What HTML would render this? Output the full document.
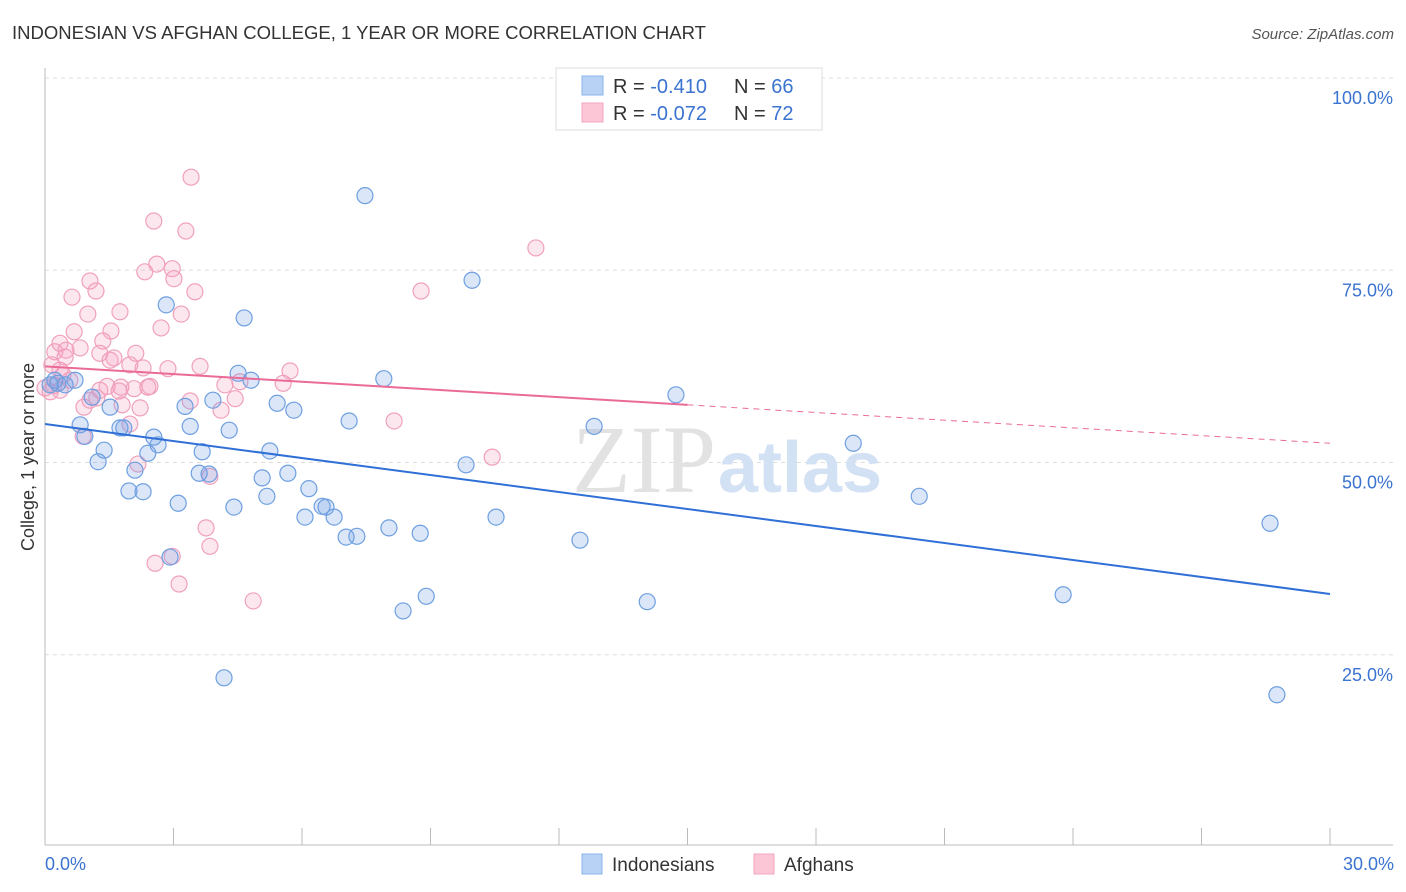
<!DOCTYPE html>
<html><head><meta charset="utf-8">
<style>
body{margin:0;background:#fff;font-family:"Liberation Sans",sans-serif;}
svg{display:block}
</style></head>
<body>
<svg id="chart" width="1406" height="892" xmlns="http://www.w3.org/2000/svg">
<text x="12" y="39" font-size="18.5" fill="#333">INDONESIAN VS AFGHAN COLLEGE, 1 YEAR OR MORE CORRELATION CHART</text>
<text x="1394" y="39" font-size="15" fill="#555" font-style="italic" text-anchor="end">Source: ZipAtlas.com</text>
<g id="grid"></g>
<text x="716" y="492" font-size="96" fill="#e2e2e2" text-anchor="end" font-family="Liberation Serif,serif">ZIP</text>
<text x="718" y="492" font-size="72" fill="#d3e1f4" font-weight="bold">atlas</text>
<g id="points"></g>
<g id="lines"></g>
<text transform="translate(34,457) rotate(-90)" font-size="18" fill="#333" text-anchor="middle">College, 1 year or more</text>
<text x="45" y="870" font-size="18" fill="#3b73d1">0.0%</text>
<text x="1394" y="870" font-size="18" fill="#3b73d1" text-anchor="end">30.0%</text>
<g>
<rect x="556" y="68" width="266" height="62" fill="#fff" stroke="#ddd"/>
<rect x="582" y="76" width="21" height="19" fill="#b7d2f5" stroke="#8ab4ea"/>
<rect x="582" y="103" width="21" height="19" fill="#fcc6d6" stroke="#f2a6bf"/>
<text x="613" y="93" font-size="20" fill="#333">R = <tspan fill="#3b73d1">-0.410</tspan><tspan x="734">N = </tspan><tspan fill="#3b73d1">66</tspan></text>
<text x="613" y="120" font-size="20" fill="#333">R = <tspan fill="#3b73d1">-0.072</tspan><tspan x="734">N = </tspan><tspan fill="#3b73d1">72</tspan></text>
</g>
<g>
<rect x="582" y="854" width="20" height="20" fill="#b7d2f5" stroke="#8ab4ea"/>
<text x="612" y="871" font-size="19" fill="#333">Indonesians</text>
<rect x="754" y="854" width="20" height="20" fill="#fcc6d6" stroke="#f2a6bf"/>
<text x="784" y="871" font-size="19" fill="#333">Afghans</text>
</g>
</svg>
<script>
const yTicks=[25,50,75,100];
const yTickLabels=["25.0%","50.0%","75.0%","100.0%"];
const xTicks=[0,3,6,9,12,15,18,21,24,27,30];
const blueX=[7.47,9.97,2.83,4.65,0.23,0.47,0.12,0.70,4.51,4.81,7.91,14.73,1.10,1.52,3.27,3.92,5.42,5.81,7.10,0.82,1.75,1.84,3.39,4.30,2.54,2.64,12.82,18.87,0.93,1.38,2.40,3.67,5.25,1.24,2.10,3.60,3.83,5.07,5.67,9.83,1.96,2.29,3.11,4.41,5.18,6.16,6.47,6.56,6.07,6.75,10.53,20.41,28.60,7.03,7.28,8.03,8.76,12.49,2.92,8.36,8.90,14.06,23.77,4.18,28.76,0.30];
const blueY=[84.7,73.7,70.5,68.8,60.7,60.1,60.1,60.7,61.6,60.7,60.9,58.8,58.5,57.2,57.3,58.1,57.7,56.8,55.4,54.9,54.5,54.5,54.7,54.2,53.3,52.3,54.7,52.5,53.4,51.6,51.2,51.4,51.5,50.1,49.0,48.6,48.5,48.0,48.6,49.7,46.3,46.2,44.7,44.2,45.6,46.6,44.3,44.2,42.9,42.9,42.9,45.6,42.1,40.3,40.4,41.5,40.8,39.9,37.7,30.7,32.6,31.9,32.8,22.0,19.8,60.3];
const pinkX=[3.41,2.54,3.29,11.46,2.61,2.97,2.33,3.01,1.05,0.63,1.19,3.50,8.78,1.75,1.00,3.18,2.71,0.68,1.54,0.35,1.35,0.23,0.49,0.82,1.28,2.12,1.61,1.52,1.98,2.29,2.87,3.62,5.72,0.47,0.16,4.55,4.20,5.56,1.45,1.77,1.73,2.08,2.45,2.40,0.35,0.12,3.39,4.44,1.21,0.91,1.80,2.22,4.11,1.98,8.15,0.89,10.44,2.17,3.85,3.76,3.85,2.97,2.57,3.13,4.86,0.35,0.0,1.28,1.05,0.58,0.42,0.2];
const pinkY=[87.1,81.4,80.1,77.9,75.8,75.2,74.8,73.9,73.6,71.5,72.3,72.2,72.3,69.6,69.3,69.3,67.5,67.0,67.1,65.5,65.8,64.4,64.6,64.9,64.2,64.2,63.6,63.3,62.7,62.3,62.2,62.5,61.9,63.7,62.7,60.5,60.1,60.3,59.9,59.8,59.3,59.6,59.9,59.8,59.4,59.2,58.0,58.3,58.4,57.2,57.5,57.1,56.8,55.0,55.4,53.4,50.7,49.8,48.2,41.5,39.1,37.8,36.9,34.2,32.0,62.0,59.7,59.4,58.1,60.7,61.4,60.0];
const blueTrend=[55.0,32.9];
const pinkTrend=[62.5,52.5];
const pinkSolidEnd=15;

const X0=45,X1=1330,Y0=847,PX=7.69;
const xs=v=>X0+v/30*(X1-X0);
const ys=v=>Y0-v*PX;
const NS="http://www.w3.org/2000/svg";
function mk(tag,attrs,parent){const e=document.createElementNS(NS,tag);for(const k in attrs)e.setAttribute(k,attrs[k]);parent.appendChild(e);return e;}
const grid=document.getElementById('grid');
yTicks.forEach((t,i)=>{
  const l=mk('line',{x1:X0,x2:1393,y1:ys(t),y2:ys(t),stroke:'#ddd','stroke-dasharray':'4,4'},grid);
  
  
  const tx=mk('text',{x:1393,y:ys(t)+26,'font-size':18,fill:'#3b73d1','text-anchor':'end'},grid);
  tx.textContent=yTickLabels[i];
  
  
});
const ax=mk('line',{x1:X0,x2:X0,y1:68,y2:845,stroke:'#bbb'},grid);


const bx=mk('line',{x1:X0,x2:1393,y1:845,y2:845,stroke:'#bbb'},grid);


xTicks.forEach(t=>{
  const l=mk('line',{x1:xs(t),x2:xs(t),y1:828,y2:845,stroke:'#bbb'},grid);
  
  
});
const pts=document.getElementById('points');
pinkX.forEach((v,i)=>{
  const c=mk('circle',{cx:xs(v),cy:ys(pinkY[i]),r:8,fill:'rgba(246,160,190,0.25)',stroke:'#f0a0bc','stroke-width':1.2},pts);
  
  
});
blueX.forEach((v,i)=>{
  const c=mk('circle',{cx:xs(v),cy:ys(blueY[i]),r:8,fill:'rgba(110,160,230,0.25)',stroke:'#6e9fe0','stroke-width':1.2},pts);
  
  
});
const ln=document.getElementById('lines');
const b=mk('line',{x1:xs(0),y1:ys(blueTrend[0]),x2:xs(30),y2:ys(blueTrend[1]),stroke:'#2f6fd6','stroke-width':2},ln);


const pm=pinkTrend[0]+(pinkTrend[1]-pinkTrend[0])*pinkSolidEnd/30;
const p1=mk('line',{x1:xs(0),y1:ys(pinkTrend[0]),x2:xs(pinkSolidEnd),y2:ys(pm),stroke:'#ea6a98','stroke-width':2},ln);


const p2=mk('line',{x1:xs(pinkSolidEnd),y1:ys(pm),x2:xs(30),y2:ys(pinkTrend[1]),stroke:'#ea6a98','stroke-width':1,'stroke-dasharray':'6,5'},ln);


</script>
</body></html>
